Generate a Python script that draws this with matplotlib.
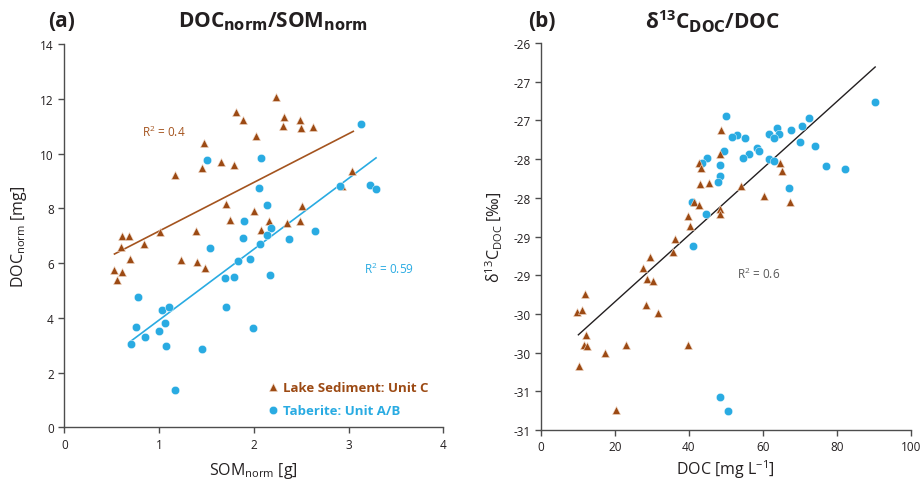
import matplotlib
matplotlib.use("Agg")
import matplotlib.pyplot as plt
from matplotlib.lines import Line2D

plt.rcParams['font.family'] = ['Open Sans', 'DejaVu Sans']
plt.rcParams['mathtext.default'] = 'regular'

BROWN = '#9C4A14'
BROWN_LINE = '#A4541F'
BLUE = '#29ABE2'
AXCOL = '#4D4D4D'
TXT = '#231F20'

# ---- panel (a): DOC_norm vs SOM_norm ----
lake_som = [2.23, 1.81, 1.89, 2.32, 2.31, 2.49, 2.50, 2.63, 2.02, 1.47, 1.65, 1.45,
            1.79, 1.17, 3.04, 2.93, 1.71, 2.51, 2.00, 1.75, 2.16, 2.35, 2.49, 2.08,
            1.01, 1.39, 0.61, 0.68, 0.84, 0.60, 0.69, 0.53, 0.61, 0.56, 1.23, 1.40, 1.48]
lake_doc = [12.05, 11.53, 11.24, 11.34, 11.02, 11.24, 10.92, 10.96, 10.63, 10.38, 9.70, 9.46,
            9.58, 9.21, 9.37, 8.82, 8.16, 8.07, 7.91, 7.58, 7.55, 7.45, 7.55, 7.22,
            7.12, 7.16, 6.98, 6.98, 6.69, 6.57, 6.15, 5.75, 5.68, 5.38, 6.11, 6.05, 5.81]

tab_som = [3.13, 1.51, 2.08, 2.06, 2.91, 3.23, 3.29, 2.14, 1.90, 2.18, 2.65, 2.14,
           1.89, 2.37, 2.07, 1.54, 1.83, 1.96, 1.70, 1.79, 2.17, 0.78, 1.71, 1.03,
           1.11, 0.76, 1.06, 1.00, 1.99, 0.85, 0.70, 1.07, 1.45, 1.17]
tab_doc = [11.08, 9.75, 9.85, 8.75, 8.83, 8.86, 8.69, 8.12, 7.55, 7.27, 7.16, 7.03,
           6.90, 6.88, 6.69, 6.55, 6.06, 6.16, 5.44, 5.50, 5.56, 4.75, 4.41, 4.27,
           4.41, 3.67, 3.81, 3.52, 3.61, 3.31, 3.04, 2.98, 2.86, 1.36]

# trend lines (end points)
lake_fit_x = [0.53, 3.05]
lake_fit_y = [6.33, 10.81]
tab_fit_x = [0.70, 3.29]
tab_fit_y = [3.14, 9.84]

# ---- panel (b): d13C_DOC vs DOC ----
lake_c = [48.6, 42.8, 43.3, 48.4, 64.6, 65.1, 43.0, 45.5, 54.0, 60.4, 67.3, 41.4,
          42.7, 48.5, 48.5, 39.7, 40.3, 36.2, 35.8, 29.5, 27.5, 28.8, 30.2, 11.8,
          9.8, 11.2, 28.3, 31.7, 12.1, 11.7, 12.5, 23.0, 39.7, 17.4, 10.4, 20.3]
lake_d13 = [-27.12, -27.55, -27.62, -27.44, -27.55, -27.66, -27.82, -27.81, -27.85, -27.98, -28.05, -28.05,
            -28.09, -28.15, -28.21, -28.24, -28.37, -28.53, -28.70, -28.76, -28.91, -29.05, -29.08, -29.24,
            -29.47, -29.45, -29.39, -29.49, -29.77, -29.90, -29.91, -29.90, -29.90, -30.00, -30.17, -30.74]

tab_c = [90.4, 50.0, 72.6, 70.7, 63.9, 67.5, 61.8, 64.5, 63.0, 52.9, 51.7, 55.2,
         70.1, 74.1, 58.5, 59.0, 49.6, 56.2, 54.6, 45.0, 43.5, 61.7, 62.9, 77.2,
         82.3, 48.4, 48.4, 47.8, 67.1, 40.8, 44.5, 41.2, 48.5, 50.6]
tab_d13 = [-26.76, -26.94, -26.97, -27.07, -27.10, -27.12, -27.18, -27.18, -27.23, -27.19, -27.22, -27.23,
           -27.28, -27.33, -27.36, -27.39, -27.40, -27.44, -27.48, -27.49, -27.55, -27.50, -27.53, -27.585,
           -27.63, -27.58, -27.72, -27.80, -27.87, -28.06, -28.21, -28.62, -30.57, -30.75]

all_fit_x = [10.1, 90.4]
all_fit_y = [-29.77, -26.31]

b_yticks = [-26, -26.5, -27, -27.5, -28, -28.5, -29, -29.5, -30, -30.5, -31]
b_yticklabels = ['-26', '-27', '-27', '-28', '-28', '-29', '-29', '-30', '-30', '-31', '-31']

fig = plt.figure(figsize=(9.22, 4.85), dpi=100)
ax1 = fig.add_axes([0.0697, 0.1169, 0.4111, 0.7903])
ax2 = fig.add_axes([0.5868, 0.1113, 0.4009, 0.7980])


def style(ax):
    for s in ('top', 'right'):
        ax.spines[s].set_visible(False)
    for s in ('left', 'bottom'):
        ax.spines[s].set_color(AXCOL)
        ax.spines[s].set_linewidth(1.0)
    ax.tick_params(direction='out', length=4, width=1.0, color=AXCOL,
                   labelsize=8.5, labelcolor=TXT)


tri = dict(marker='^', linestyle='none', markersize=6, color=BROWN,
           markeredgecolor='#F3DCCB', markeredgewidth=0.4)
dot = dict(marker='o', linestyle='none', markersize=6, color=BLUE,
           markeredgecolor='white', markeredgewidth=0.3)

# (a)
style(ax1)
ax1.plot(lake_som, lake_doc, zorder=3, **tri)
ax1.plot(tab_som, tab_doc, zorder=4, **dot)
ax1.plot(lake_fit_x, lake_fit_y, color=BROWN_LINE, lw=1.2, zorder=2)
ax1.plot(tab_fit_x, tab_fit_y, color=BLUE, lw=1.2, zorder=2)
ax1.set_xlim(0, 4)
ax1.set_ylim(0, 14)
ax1.set_xticks([0, 1, 2, 3, 4])
ax1.set_yticks(range(0, 15, 2))
ax1.set_xlabel(r'SOM$_{norm}$ [g]', fontsize=11.5, color=TXT, labelpad=7)
ax1.set_ylabel(r'DOC$_{norm}$ [mg]', fontsize=11.5, color=TXT, labelpad=8)
ax1.text(0.82, 10.8, r'R$^2$ = 0.4', color=BROWN_LINE, fontsize=8.5, va='center')
ax1.text(3.16, 5.82, r'R$^2$ = 0.59', color=BLUE, fontsize=8.5, va='center')
handles = [Line2D([], [], **tri), Line2D([], [], **dot)]
leg = ax1.legend(handles, ['Lake Sediment: Unit C', 'Taberite: Unit A/B'],
                 loc='upper left', bbox_to_anchor=(0.533, 0.12), frameon=False,
                 borderaxespad=0, borderpad=0, handlelength=1.0, handletextpad=0.3,
                 labelspacing=0.75, prop={'weight': 'bold', 'size': 9.5})
for t, c in zip(leg.get_texts(), [BROWN, BLUE]):
    t.set_color(c)
fig.text(0.052, 0.955, '(a)', fontsize=15, fontweight='bold', color=TXT, va='center')
fig.text(0.296, 0.955, r'DOC$_{\mathbf{norm}}$/SOM$_{\mathbf{norm}}$', fontsize=15,
         fontweight='bold', color=TXT, va='center', ha='center')

# (b)
style(ax2)
ax2.plot(tab_c, tab_d13, zorder=3, **dot)
ax2.plot(lake_c, lake_d13, zorder=4, **tri)
ax2.plot(all_fit_x, all_fit_y, color='#231F20', lw=1.0, zorder=2)
ax2.set_xlim(0, 100)
ax2.set_ylim(-31, -26)
ax2.set_xticks(range(0, 101, 20))
ax2.set_yticks(b_yticks)
ax2.set_yticklabels(b_yticklabels)
ax2.set_xlabel(r'DOC [mg L$^{-1}$]', fontsize=11.5, color=TXT, labelpad=3)
ax2.set_ylabel(r'δ$^{13}$C$_{DOC}$ [‰]', fontsize=11.5, color=TXT, labelpad=6)
ax2.text(52.9, -28.98, r'R$^2$ = 0.6', color='#595959', fontsize=8.5, va='center')
fig.text(0.573, 0.955, '(b)', fontsize=15, fontweight='bold', color=TXT, va='center')
fig.text(0.773, 0.955, r'δ$^{13}$C$_{\mathbf{DOC}}$/DOC', fontsize=15,
         fontweight='bold', color=TXT, va='center', ha='center')

fig.savefig('out.png', dpi=100)
